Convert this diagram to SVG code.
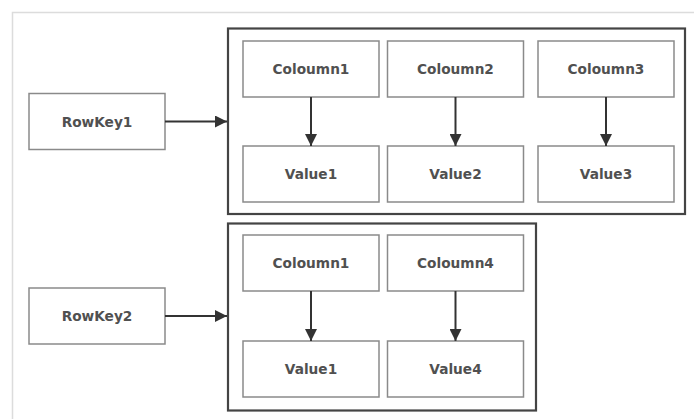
<svg xmlns="http://www.w3.org/2000/svg" width="694" height="419" viewBox="0 0 694 419">
<defs>
<style>
.box{fill:#fff;stroke:#8a8a8a;stroke-width:1.5}
.grp{fill:none;stroke:#444;stroke-width:2.2}
.t{font-family:"DejaVu Sans",Verdana,sans-serif;font-weight:bold;font-size:13.7px;fill:#505050;text-anchor:middle;dominant-baseline:central}
.c{stroke:#333;stroke-width:2;fill:none}
</style>
<marker id="ah" viewBox="0 0 12 12" refX="12" refY="6" markerWidth="12" markerHeight="12" markerUnits="userSpaceOnUse" orient="auto">
<path d="M0,0 L12,6 L0,12 Z" fill="#333"/>
</marker>
</defs>
<rect width="694" height="419" fill="#fff"/>
<path d="M12.5,419 V12.5 H694" fill="none" stroke="#dcdcdc" stroke-width="1.5"/>
<g id="group1"><rect class="grp" x="228" y="28.5" width="457" height="185.5"/></g>
<g id="group2"><rect class="grp" x="228" y="223.5" width="308" height="187"/></g>
<g id="rowkey1"><rect class="box" x="29" y="93.5" width="136" height="56"/><text class="t" x="97" y="121.5">RowKey1</text></g>
<g id="rowkey2"><rect class="box" x="29" y="288" width="136" height="56"/><text class="t" x="97" y="316">RowKey2</text></g>
<g id="r1col1"><rect class="box" x="243" y="41" width="136" height="56"/><text class="t" x="311" y="69">Coloumn1</text></g>
<g id="r1col2"><rect class="box" x="387.5" y="41" width="136" height="56"/><text class="t" x="455.5" y="69">Coloumn2</text></g>
<g id="r1col3"><rect class="box" x="538" y="41" width="136" height="56"/><text class="t" x="606" y="69">Coloumn3</text></g>
<g id="r1val1"><rect class="box" x="243" y="146" width="136" height="56"/><text class="t" x="311" y="174">Value1</text></g>
<g id="r1val2"><rect class="box" x="387.5" y="146" width="136" height="56"/><text class="t" x="455.5" y="174">Value2</text></g>
<g id="r1val3"><rect class="box" x="538" y="146" width="136" height="56"/><text class="t" x="606" y="174">Value3</text></g>
<g id="r2col1"><rect class="box" x="243" y="235" width="136" height="56"/><text class="t" x="311" y="263">Coloumn1</text></g>
<g id="r2col4"><rect class="box" x="387.5" y="235" width="136" height="56"/><text class="t" x="455.5" y="263">Coloumn4</text></g>
<g id="r2val1"><rect class="box" x="243" y="341" width="136" height="56"/><text class="t" x="311" y="369">Value1</text></g>
<g id="r2val4"><rect class="box" x="387.5" y="341" width="136" height="56"/><text class="t" x="455.5" y="369">Value4</text></g>
<g id="connectors">
<path class="c" d="M165,121.5 H227" marker-end="url(#ah)"/>
<path class="c" d="M165,316 H227" marker-end="url(#ah)"/>
<path class="c" d="M311,97 V146" marker-end="url(#ah)"/>
<path class="c" d="M455.5,97 V146" marker-end="url(#ah)"/>
<path class="c" d="M606,97 V146" marker-end="url(#ah)"/>
<path class="c" d="M311,291 V341" marker-end="url(#ah)"/>
<path class="c" d="M455.5,291 V341" marker-end="url(#ah)"/>
</g>
</svg>
